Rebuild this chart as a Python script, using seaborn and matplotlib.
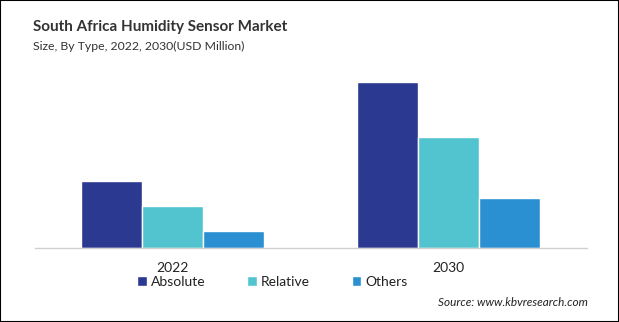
import matplotlib
matplotlib.use("Agg")
import matplotlib.pyplot as plt
import seaborn as sns
import pandas as pd
from matplotlib.patches import Rectangle

years = ["2022", "2030"]
types = ["Absolute", "Relative", "Others"]
absolute = [7.8, 19.4]
relative = [4.9, 13.0]
others = [2.0, 5.9]
colors = ["#2B3990", "#52C4D0", "#2A90D2"]

rows = []
for t, vals in zip(types, [absolute, relative, others]):
    for y, v in zip(years, vals):
        rows.append({"Year": y, "Type": t, "Value": v})
df = pd.DataFrame(rows)

sns.set_theme(style="white")
plt.rcParams["font.family"] = ["Lato", "DejaVu Sans"]

fig = plt.figure(figsize=(6.19, 3.22), dpi=100)
ax = fig.add_axes([0.0565, 0.2298, 0.8915, 0.584])

sns.barplot(data=df, x="Year", y="Value", hue="Type", order=years, hue_order=types,
            palette=colors, width=0.663, saturation=1, ax=ax, legend=True)

ax.set_xlim(-0.5, 1.5)
ax.set_ylim(0, 22)
for s in ["top", "right", "left"]:
    ax.spines[s].set_visible(False)
ax.spines["bottom"].set_color("#d0d0d0")
ax.spines["bottom"].set_linewidth(1)
ax.set_yticks([])
ax.set_xlabel("")
ax.set_ylabel("")
ax.tick_params(axis="x", length=0, pad=10, labelsize=10, colors="#222222")

leg = ax.legend(loc="center", ncol=3, frameon=False, fontsize=10, handlelength=0.7,
                handleheight=0.7, handletextpad=0.3, columnspacing=3.0)
leg.set_bbox_to_anchor((0.44, 0.125), transform=fig.transFigure)
for t in leg.get_texts():
    t.set_color("#222222")

fig.text(0.053, 0.917, "South Africa Humidity Sensor Market", fontsize=11, fontweight="bold",
         color="#333333", ha="left", va="center")
fig.text(0.053, 0.855, "Size, By Type, 2022, 2030(USD Million)", fontsize=8.8,
         color="#333333", ha="left", va="center")
fig.text(0.95, 0.062, "Source: www.kbvresearch.com", fontsize=8.5, style="italic",
         color="#222222", ha="right", va="center")

fig.patches.append(Rectangle((0, 0), 1, 1, transform=fig.transFigure, fill=False,
                             edgecolor="black", linewidth=1.5))

fig.savefig("out.png", dpi=100)
